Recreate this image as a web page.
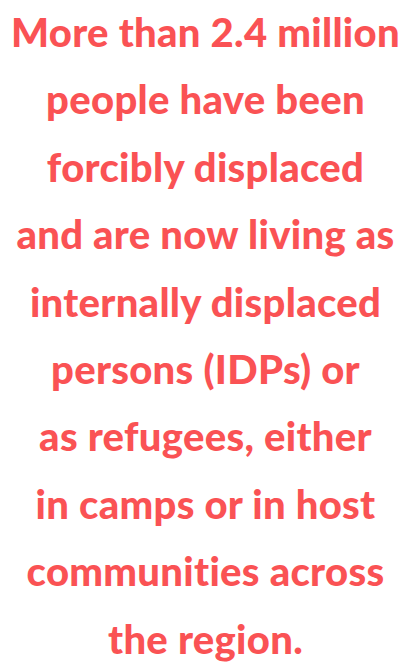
<!DOCTYPE html>
<html>
<head>
<meta charset="utf-8">
<script src="https://cdn.jsdelivr.net/npm/chart.js@4"></script>
<style>
html,body{margin:0;padding:0;background:#fff;}
#wrap{width:411px;height:669px;position:relative;overflow:hidden;}
#txt{position:absolute;left:0;top:-1px;width:411px;text-align:center;font-family:Lato,"Open Sans",sans-serif;font-weight:900;font-size:40px;line-height:67.4px;color:#fa5254;letter-spacing:0.3px;}
#txt div{white-space:nowrap;}
</style>
</head>
<body>
<div id="wrap"><div id="txt"></div></div>
<script>
const lines = [
  "More than 2.4 million",
  "people have been",
  "forcibly displaced",
  "and are now living as",
  "internally displaced",
  "persons (IDPs) or",
  "as refugees, either",
  "in camps or in host",
  "communities across",
  "the region."
];
const t = document.getElementById('txt');
lines.forEach(l => { const d = document.createElement('div'); d.textContent = l; t.appendChild(d); });
</script>
</body>
</html>
